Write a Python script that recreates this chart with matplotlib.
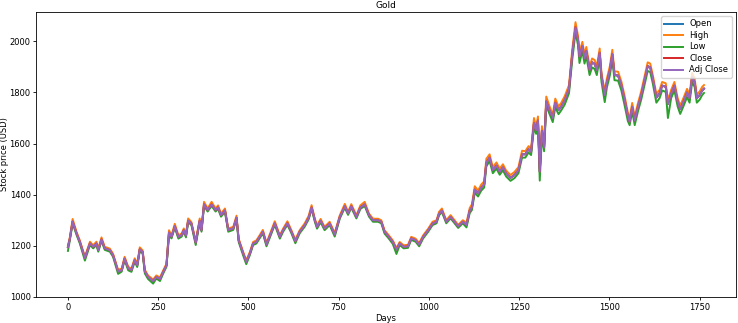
import matplotlib
matplotlib.use("Agg")
import matplotlib.pyplot as plt

days = [0, 5, 13, 24, 33, 47, 61, 70, 79, 84,
        93, 102, 116, 125, 139, 149, 157, 167, 176, 185,
        192, 199, 207, 213, 222, 236, 245, 255, 264, 273,
        280, 287, 296, 306, 315, 321, 327, 333, 342, 354,
        365, 370, 377, 387, 398, 409, 416, 424, 435, 444,
        458, 467, 473, 485, 494, 504, 513, 522, 531, 540,
        550, 562, 573, 587, 596, 608, 619, 630, 642, 656,
        667, 675, 684, 690, 700, 711, 725, 739, 753, 767,
        776, 785, 799, 810, 822, 834, 845, 859, 868, 877,
        889, 900, 910, 919, 930, 942, 951, 963, 973, 984,
        998, 1010, 1021, 1028, 1036, 1048, 1060, 1071, 1081, 1094,
        1104, 1113, 1119, 1127, 1136, 1145, 1153, 1159, 1168, 1177,
        1187, 1196, 1205, 1214, 1226, 1237, 1248, 1258, 1267, 1276,
        1283, 1291, 1297, 1302, 1307, 1313, 1319, 1325, 1334, 1343,
        1350, 1359, 1366, 1376, 1388, 1397, 1406, 1413, 1417, 1425,
        1431, 1436, 1445, 1452, 1459, 1465, 1473, 1478, 1487, 1493,
        1501, 1508, 1514, 1524, 1533, 1542, 1551, 1556, 1563, 1570,
        1579, 1588, 1597, 1606, 1613, 1620, 1630, 1639, 1646, 1656,
        1662, 1671, 1680, 1689, 1696, 1705, 1715, 1722, 1729, 1736,
        1742, 1750, 1757, 1762]

close = [1195, 1225, 1295, 1248, 1215, 1152, 1209, 1196, 1209, 1183,
         1225, 1190, 1183, 1163, 1100, 1105, 1150, 1112, 1105, 1144,
         1124, 1186, 1176, 1100, 1078, 1062, 1078, 1070, 1098, 1124,
         1252, 1235, 1277, 1235, 1242, 1261, 1240, 1298, 1287, 1212,
         1298, 1261, 1362, 1340, 1362, 1340, 1350, 1320, 1338, 1262,
         1268, 1310, 1222, 1172, 1137, 1170, 1209, 1215, 1235, 1255,
         1205, 1248, 1288, 1235, 1261, 1288, 1255, 1218, 1255, 1281,
         1310, 1350, 1300, 1274, 1298, 1268, 1287, 1244, 1312, 1355,
         1327, 1355, 1313, 1350, 1362, 1320, 1300, 1300, 1294, 1255,
         1235, 1215, 1185, 1209, 1196, 1198, 1229, 1222, 1205, 1235,
         1261, 1287, 1294, 1325, 1338, 1294, 1313, 1294, 1276, 1294,
         1281, 1338, 1350, 1420, 1405, 1428, 1440, 1525, 1545, 1496,
         1514, 1490, 1507, 1483, 1466, 1477, 1496, 1558, 1558, 1578,
         1568, 1680, 1653, 1690, 1490, 1650, 1585, 1765, 1731, 1700,
         1760, 1731, 1744, 1770, 1814, 1950, 2055, 2005, 1940, 1982,
         1933, 1962, 1888, 1918, 1912, 1888, 1955, 1862, 1790, 1840,
         1886, 1950, 1868, 1866, 1829, 1772, 1708, 1685, 1744, 1690,
         1744, 1790, 1846, 1903, 1898, 1855, 1780, 1796, 1827, 1822,
         1755, 1796, 1827, 1764, 1735, 1764, 1800, 1778, 1860, 1840,
         1778, 1790, 1808, 1815]

high = [1201, 1231, 1305, 1254, 1221, 1158, 1216, 1202, 1216, 1189,
        1233, 1196, 1189, 1169, 1106, 1111, 1157, 1118, 1111, 1151,
        1130, 1194, 1182, 1106, 1084, 1068, 1084, 1076, 1104, 1130,
        1261, 1241, 1286, 1241, 1248, 1268, 1246, 1307, 1293, 1218,
        1307, 1267, 1372, 1346, 1372, 1346, 1358, 1326, 1346, 1268,
        1274, 1318, 1228, 1178, 1143, 1176, 1215, 1221, 1241, 1262,
        1211, 1255, 1296, 1241, 1267, 1296, 1261, 1224, 1261, 1288,
        1318, 1359, 1306, 1280, 1305, 1274, 1294, 1250, 1319, 1364,
        1333, 1363, 1319, 1358, 1372, 1326, 1306, 1306, 1300, 1261,
        1241, 1221, 1191, 1215, 1202, 1204, 1235, 1228, 1211, 1241,
        1267, 1294, 1300, 1333, 1346, 1300, 1320, 1300, 1282, 1300,
        1290, 1348, 1362, 1433, 1416, 1440, 1452, 1540, 1558, 1508,
        1526, 1502, 1519, 1494, 1477, 1489, 1508, 1572, 1570, 1590,
        1580, 1700, 1666, 1706, 1505, 1668, 1598, 1784, 1746, 1713,
        1776, 1745, 1758, 1785, 1829, 1968, 2075, 2022, 1956, 1998,
        1949, 1978, 1902, 1933, 1927, 1902, 1972, 1876, 1805, 1855,
        1902, 1967, 1883, 1881, 1843, 1787, 1722, 1699, 1759, 1705,
        1758, 1804, 1861, 1918, 1913, 1869, 1794, 1810, 1841, 1836,
        1769, 1810, 1841, 1778, 1749, 1778, 1814, 1792, 1876, 1855,
        1792, 1804, 1822, 1829]

low = [1180, 1219, 1288, 1242, 1209, 1142, 1203, 1190, 1203, 1177,
       1219, 1184, 1177, 1157, 1090, 1099, 1144, 1104, 1098, 1138,
       1117, 1180, 1170, 1092, 1070, 1052, 1072, 1062, 1092, 1118,
       1240, 1229, 1271, 1228, 1236, 1255, 1233, 1292, 1281, 1203,
       1292, 1255, 1356, 1334, 1356, 1334, 1344, 1314, 1332, 1255,
       1262, 1304, 1215, 1164, 1128, 1164, 1203, 1209, 1229, 1249,
       1198, 1242, 1282, 1228, 1255, 1282, 1249, 1210, 1249, 1275,
       1304, 1344, 1294, 1267, 1292, 1261, 1281, 1236, 1306, 1349,
       1321, 1349, 1307, 1344, 1356, 1314, 1294, 1294, 1288, 1248,
       1228, 1207, 1168, 1203, 1190, 1192, 1223, 1216, 1198, 1229,
       1255, 1281, 1288, 1319, 1332, 1288, 1307, 1288, 1270, 1288,
       1272, 1328, 1340, 1408, 1393, 1416, 1428, 1510, 1532, 1484,
       1502, 1478, 1495, 1471, 1454, 1465, 1484, 1545, 1545, 1565,
       1555, 1662, 1638, 1674, 1455, 1632, 1570, 1748, 1716, 1684,
       1742, 1715, 1729, 1752, 1797, 1928, 2035, 1985, 1915, 1962,
       1913, 1942, 1868, 1898, 1892, 1868, 1935, 1842, 1762, 1820,
       1866, 1928, 1848, 1846, 1808, 1750, 1688, 1672, 1726, 1672,
       1726, 1772, 1828, 1884, 1880, 1836, 1760, 1778, 1808, 1802,
       1700, 1778, 1808, 1745, 1716, 1746, 1782, 1760, 1840, 1822,
       1760, 1772, 1790, 1798]

# Open is covered by the other lines, Adj Close equals Close for gold
open_ = list(close)
adj_close = list(close)

series = [("Open", open_), ("High", high), ("Low", low),
          ("Close", close), ("Adj Close", adj_close)]

fig, ax = plt.subplots(figsize=(7.38, 3.23), dpi=100)
fig.subplots_adjust(left=0.049, right=0.997, top=0.963, bottom=0.08)

for name, values in series:
    ax.plot(days, values, label=name, linewidth=1.4)

ax.set_title("Gold", fontsize=6.5, pad=3)
ax.set_xlabel("Days", fontsize=6, labelpad=2)
ax.set_ylabel("Stock price (USD)", fontsize=6)
ax.yaxis.set_label_coords(-0.039, 0.5)
ax.set_xlim(-88, 1850)
ax.set_ylim(999, 2115)
ax.set_xticks([0, 250, 500, 750, 1000, 1250, 1500, 1750])
ax.set_yticks([1000, 1200, 1400, 1600, 1800, 2000])
ax.tick_params(labelsize=6, length=2, width=0.6, pad=2)
for s in ax.spines.values():
    s.set_linewidth(0.6)
ax.legend(loc="upper right", fontsize=6, handlelength=2.2, borderpad=0.4,
          labelspacing=0.3, framealpha=0.8)

fig.savefig("out.png", dpi=100)
